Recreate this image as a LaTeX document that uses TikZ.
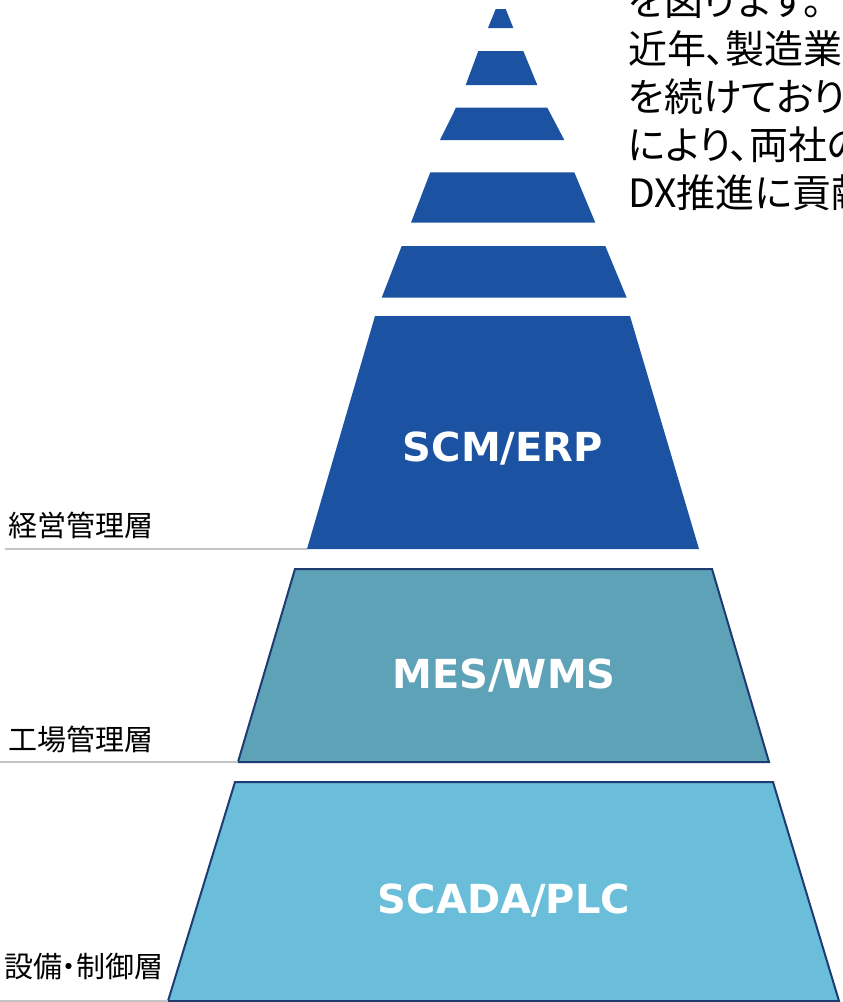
\documentclass[tikz,border=0pt]{standalone}
\usepackage{fontspec}
\newfontfamily\jpfont[RawFeature=+palt]{Noto Sans CJK JP}
\newfontfamily\layerfont{DejaVu Sans}
\definecolor{topblue}{HTML}{1C52A2}
\definecolor{midteal}{HTML}{5EA2B8}
\definecolor{lowcyan}{HTML}{6ABEDA}
\definecolor{edgenavy}{HTML}{1E3B72}
\definecolor{rulegray}{HTML}{C4C4C4}
\tikzset{
    stripe/.style={fill=topblue},
    layer/.style={draw=edgenavy, line width=2pt, line join=miter},
    layername/.style={text=white, font=\layerfont\bfseries\fontsize{40}{40}\selectfont},
    levelname/.style={anchor=west, inner sep=0pt, font=\jpfont\fontsize{29}{29}\selectfont},
    bodytext/.style={anchor=west, inner sep=0pt, font=\jpfont\fontsize{39}{39}\selectfont},
    levelrule/.style={draw=rulegray, line width=2pt}
}
\begin{document}
\begin{tikzpicture}[x=1pt, y=-1pt]
            \clip (0, 0) rectangle (843, 1002);
            \fill[white] (0, 0) rectangle (843, 1002);
            
            % text on the right, cut by the page edge
            \node[bodytext] (t0) at (628, 1) {を図ります。};
            \node[bodytext] (t1) at (628, 49) {近年、製造業};
            \node[bodytext] (t2) at (628, 97) {を続けており、};
            \node[bodytext] (t3) at (628, 145) {により、両社の};
            \node[bodytext] (t4) at (628, 193) {DX推進に貢献};
            
            % small stripes at the top
            \fill[stripe] (495.7, 9) -- (505.7, 9) -- (513.3, 28) -- (488, 28) -- cycle;
            \fill[stripe] (478.3, 51) -- (523.3, 51) -- (537.3, 85) -- (465.7, 85) -- cycle;
            \fill[stripe] (456, 107.7) -- (547.3, 107.7) -- (564.3, 140) -- (440, 140) -- cycle;
            \fill[stripe] (430.3, 172.3) -- (574.3, 172.3) -- (595.3, 222.7) -- (411, 222.7) -- cycle;
            \fill[stripe] (401.7, 246) -- (605.3, 246) -- (626.7, 297.7) -- (381.7, 297.7) -- cycle;
            
            % corners of the three layers
            \coordinate (erp_tl) at (375, 316);
            \coordinate (erp_tr) at (630, 316);
            \coordinate (erp_br) at (699, 549);
            \coordinate (erp_bl) at (307, 549);
            
            \coordinate (mes_tl) at (295, 569);
            \coordinate (mes_tr) at (712, 569);
            \coordinate (mes_br) at (769, 762);
            \coordinate (mes_bl) at (238, 762);
            
            \coordinate (plc_tl) at (235, 782);
            \coordinate (plc_tr) at (773, 782);
            \coordinate (plc_br) at (839, 1001);
            \coordinate (plc_bl) at (168, 1001);
            
            \fill[stripe] (erp_tl) -- (erp_tr) -- (erp_br) -- (erp_bl) -- cycle;
            \filldraw[layer, fill=midteal] (mes_tl) -- (mes_tr) -- (mes_br) -- (mes_bl) -- cycle;
            \filldraw[layer, fill=lowcyan] (plc_tl) -- (plc_tr) -- (plc_br) -- (plc_bl) -- cycle;
            
            \node[layername] (erp) at (503, 449) {SCM/ERP};
            \node[layername] (mes) at (504, 676) {MES/WMS};
            \node[layername] (plc) at (504, 901) {SCADA/PLC};
            
            % level names on the left
            \node[levelname] (lv1) at (8, 525) {経営管理層};
            \node[levelname] (lv2) at (8, 739) {工場管理層};
            \node[levelname] (lv3) at (4, 966) {設備・制御層};
            
            \coordinate (r1) at (5, 549);
            \coordinate (r2) at (0, 762);
            \coordinate (r3) at (0, 1001);
            
            \draw[levelrule] (r1) -- (erp_bl);
            \draw[levelrule] (r2) -- (mes_bl);
            \draw[levelrule] (r3) -- (plc_bl);
        \end{tikzpicture}
\end{document}
